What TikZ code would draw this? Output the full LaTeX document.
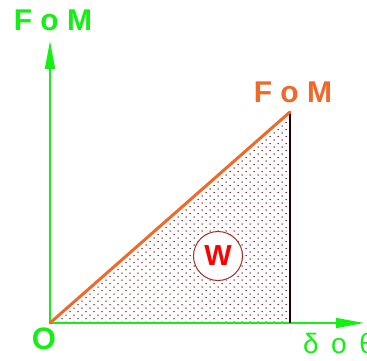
\documentclass[tikz,border=0pt]{standalone}
\usepackage{fontspec}
\setmainfont{Liberation Sans}
\usetikzlibrary{arrows.meta,positioning}
\definecolor{AxisGreen}{RGB}{20,240,20}
\definecolor{LineOrange}{RGB}{240,105,40}
\definecolor{DotRed}{RGB}{110,15,15}
\definecolor{RingRed}{RGB}{165,45,45}
\definecolor{WorkRed}{RGB}{255,0,0}
\tikzset{
  axis/.style={AxisGreen,line width=1.4pt,-{Triangle[length=28pt,width=10pt]}},
  big label/.style={font=\fontsize{30}{30}\bfseries\selectfont,inner sep=0pt},
  axis label/.style={big label,text=AxisGreen},
  work ring/.style={circle,draw=RingRed,line width=1pt,fill=white,minimum size=49pt,inner sep=0pt,
    text=WorkRed,font=\fontsize{29}{29}\bfseries\selectfont},
}
\begin{document}
\begin{tikzpicture}[x=1pt,y=-1pt]
\useasboundingbox[fill=white] (0,0) rectangle (367,361);

\coordinate (o) at (50,323);
\coordinate (ytop) at (50,41);
\coordinate (xend) at (364,323);
\coordinate (top) at (290,112);
\coordinate (foot) at (290,323);

% dotted area under the line
\begin{scope}
  \clip (o) -- (top) -- (foot) -- cycle;
  \foreach \r in {0,...,61} {
    \pgfmathsetmacro{\yy}{112+\r*3.5}
    \pgfmathsetmacro{\sh}{mod(\r,2)*4}
    \foreach \c in {0,...,30}
      \fill[DotRed] (50+\sh+\c*8,\yy) circle (0.75pt);
  }
\end{scope}

\draw[axis] (o) -- (ytop);
\draw[axis] (o) -- (xend);
\draw[black!85!red,line width=1.4pt] (foot) -- (top);
\draw[LineOrange,line width=3pt,line cap=round] (o) -- (top);

\node[work ring] (w) at (218,256) {W};

\node[axis label] (yname) at (53,20) {F o M};
\node[big label,text=LineOrange] (fom) at (293,92) {F o M};
\node[axis label,font=\fontsize{31}{31}\bfseries\selectfont] (orig) at (44,339) {O};
\node[anchor=west,inner sep=0pt,text=AxisGreen,font=\fontsize{28}{28}\selectfont] (xname) at (303,343) {δ\, o\, θ};

\end{tikzpicture}
\end{document}
